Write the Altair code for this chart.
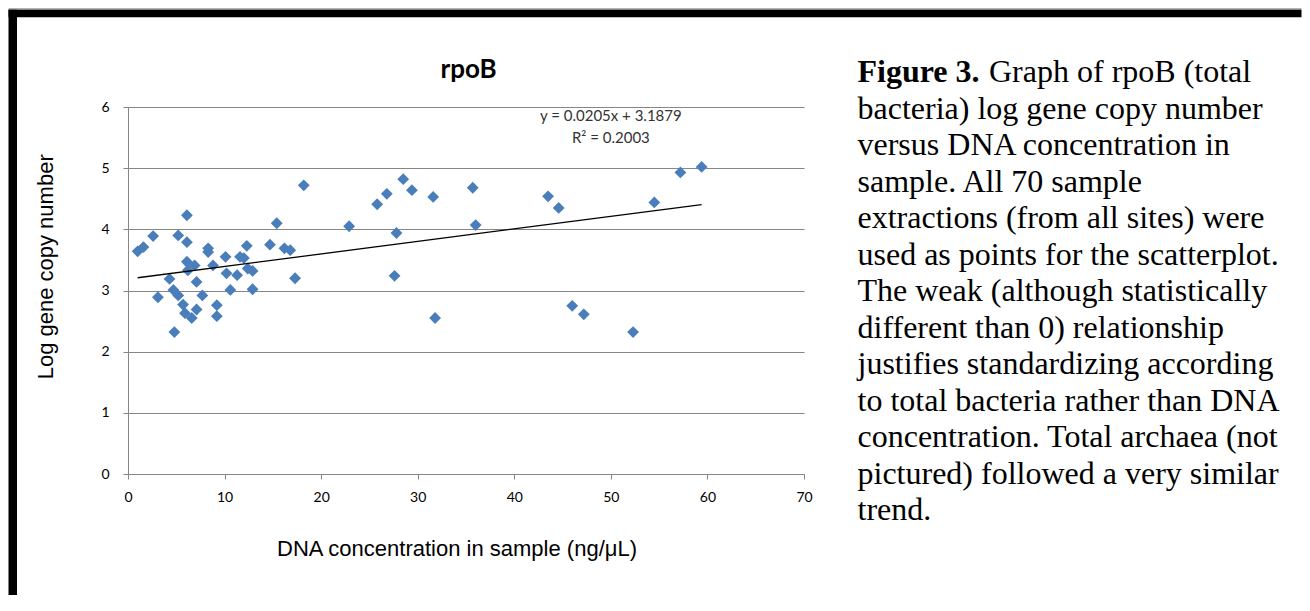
import altair as alt
import pandas as pd

# ---- data ----
dna_conc = [1.0, 1.6, 2.6, 5.2, 6.1, 6.1, 8.3, 8.3, 10.1, 12.3,
            14.7, 15.4, 11.6, 12.0, 6.1, 6.9, 8.8, 12.4, 12.9, 6.2,
            10.2, 11.3, 4.3, 7.1, 3.1, 4.7, 5.2, 7.7, 10.6, 12.9,
            5.7, 9.2, 7.1, 5.9, 6.6, 9.2, 4.8, 18.2, 16.2, 16.8,
            17.3, 22.9, 25.8, 26.8, 28.5, 29.4, 31.6, 27.8, 27.6, 31.8,
            35.7, 36.0, 43.5, 44.6, 54.5, 57.2, 59.4, 46.0, 47.2, 52.3]
log_copy = [3.64, 3.71, 3.89, 3.90, 4.23, 3.79, 3.69, 3.63, 3.55, 3.73,
            3.75, 4.10, 3.55, 3.53, 3.47, 3.41, 3.41, 3.36, 3.32, 3.33,
            3.28, 3.25, 3.19, 3.14, 2.89, 3.01, 2.92, 2.92, 3.01, 3.02,
            2.77, 2.76, 2.69, 2.63, 2.55, 2.58, 2.32, 4.72, 3.69, 3.66,
            3.20, 4.05, 4.41, 4.58, 4.82, 4.64, 4.53, 3.94, 3.24, 2.55,
            4.68, 4.07, 4.54, 4.35, 4.44, 4.93, 5.02, 2.75, 2.61, 2.32]
slope = 0.0205
intercept = 3.1879
r_squared = 0.2003
x_ticks = [0, 10, 20, 30, 40, 50, 60, 70]
y_ticks = [0, 1, 2, 3, 4, 5, 6]
eq_lines = ["y = 0.0205x + 3.1879", "R\u00b2 = 0.2003"]
eq_pos_x = [50.0, 50.0]
eq_pos_y = [5.85, 5.50]
chart_title = "rpoB"
x_title = "DNA concentration in sample (ng/\u03bcL)"
y_title = "Log gene copy number"
caption_bold = "Figure 3."
caption_first_rest = "Graph of rpoB (total"
caption_lines = [
    "bacteria) log gene copy number",
    "versus DNA concentration in",
    "sample. All 70 sample",
    "extractions (from all sites) were",
    "used as points for the scatterplot.",
    "The weak (although statistically",
    "different than 0) relationship",
    "justifies standardizing according",
    "to total bacteria rather than DNA",
    "concentration. Total archaea (not",
    "pictured) followed a very similar",
    "trend.",
]

# ---- layout (pixels, relative to plot origin) ----
W, H = 676, 367
BLUE = "#4A7EBB"
GRID = "#868686"

pts = pd.DataFrame({"dna": dna_conc, "logc": log_copy})
xmin, xmax = min(dna_conc), max(dna_conc)
trend = pd.DataFrame({"dna": [xmin, xmax],
                      "logc": [intercept + slope * xmin, intercept + slope * xmax]})
eq = pd.DataFrame({"dna": eq_pos_x, "logc": eq_pos_y, "t": eq_lines})

xs = alt.Scale(domain=[0, 70], nice=False, zero=False)
ys = alt.Scale(domain=[0, 6], nice=False, zero=False)

x_axis = alt.Axis(values=x_ticks, grid=False, tickSize=5, tickColor=GRID,
                  domainColor=GRID, domainWidth=1, labelFont="Lato",
                  labelFontSize=14, labelColor="#000000", labelPadding=18,
                  labelBaseline="middle", labelFlush=False, format="d",
                  title=x_title, titleFont="Liberation Sans", titleFontSize=22,
                  titleFontWeight="normal", titleColor="#000000",
                  titleX=328.5, titleY=74.5, titleBaseline="middle",
                  titleAlign="center")
y_axis = alt.Axis(values=y_ticks, grid=True, gridColor=GRID, gridWidth=1,
                  tickSize=5, tickColor=GRID, domainColor=GRID, domainWidth=1,
                  labelFont="Lato", labelFontSize=14, labelColor="#000000",
                  labelPadding=14, labelFlush=False, format="d",
                  title=y_title, titleFont="Liberation Sans", titleFontSize=22,
                  titleFontWeight="normal", titleColor="#000000",
                  titleX=-82.5, titleY=159.3, titleAngle=270,
                  titleBaseline="middle", titleAlign="center")

points = alt.Chart(pts).mark_point(shape="diamond", filled=True, size=140,
                                   color=BLUE, opacity=1).encode(
    x=alt.X("dna:Q", scale=xs, axis=x_axis),
    y=alt.Y("logc:Q", scale=ys, axis=y_axis),
)

line = alt.Chart(trend).mark_line(color="#000000", strokeWidth=1.3).encode(
    x=alt.X("dna:Q", scale=xs), y=alt.Y("logc:Q", scale=ys))

eq_text = alt.Chart(eq).mark_text(font="Lato", fontSize=15, color="#333333",
                                  align="center", baseline="middle").encode(
    x=alt.X("dna:Q", scale=xs), y=alt.Y("logc:Q", scale=ys), text="t:N")

one = pd.DataFrame({"a": [0]})

title_mark = alt.Chart(one).mark_text(font="Lato", fontSize=26, fontWeight="bold",
                                      color="#000000", align="center",
                                      baseline="alphabetic", text=chart_title).encode(
    x=alt.value(340.5), y=alt.value(-28.7))

border_gray = alt.Chart(one).mark_rect(color="#9a9a9a").encode(
    x=alt.value(-119.5), x2=alt.value(1173.5), y=alt.value(-98.7), y2=alt.value(-97.2))
border_top = alt.Chart(one).mark_rect(color="#000000").encode(
    x=alt.value(-119.5), x2=alt.value(1173.5), y=alt.value(-97.2), y2=alt.value(-89.7))
border_left = alt.Chart(one).mark_rect(color="#000000").encode(
    x=alt.value(-119.5), x2=alt.value(-111), y=alt.value(-97.2), y2=alt.value(488))

CAP_FONT = "Liberation Serif"
CAP_SIZE = 32
CAP_X = 729.5
CAP_Y0 = 72 - 106.7
CAP_DY = 36.5
cap_layers = [
    alt.Chart(one).mark_text(font=CAP_FONT, fontSize=CAP_SIZE, fontWeight="bold",
                             color="#000000", align="left", baseline="middle",
                             text=caption_bold).encode(x=alt.value(CAP_X), y=alt.value(CAP_Y0)),
    alt.Chart(one).mark_text(font=CAP_FONT, fontSize=CAP_SIZE,
                             color="#000000", align="left", baseline="middle",
                             text=caption_first_rest).encode(x=alt.value(861), y=alt.value(CAP_Y0)),
]
for i, ln in enumerate(caption_lines):
    cap_layers.append(
        alt.Chart(one).mark_text(font=CAP_FONT, fontSize=CAP_SIZE,
                                 color="#000000", align="left", baseline="middle",
                                 text=ln).encode(x=alt.value(CAP_X),
                                                 y=alt.value(CAP_Y0 + CAP_DY * (i + 1))))

chart = alt.layer(border_gray, border_top, border_left, points, line, eq_text,
                  title_mark, *cap_layers).properties(
    width=W, height=H, padding=0, background="#ffffff"
).configure_view(stroke=None)

chart.save("out.html", embed_options={"renderer": "svg", "actions": False})
